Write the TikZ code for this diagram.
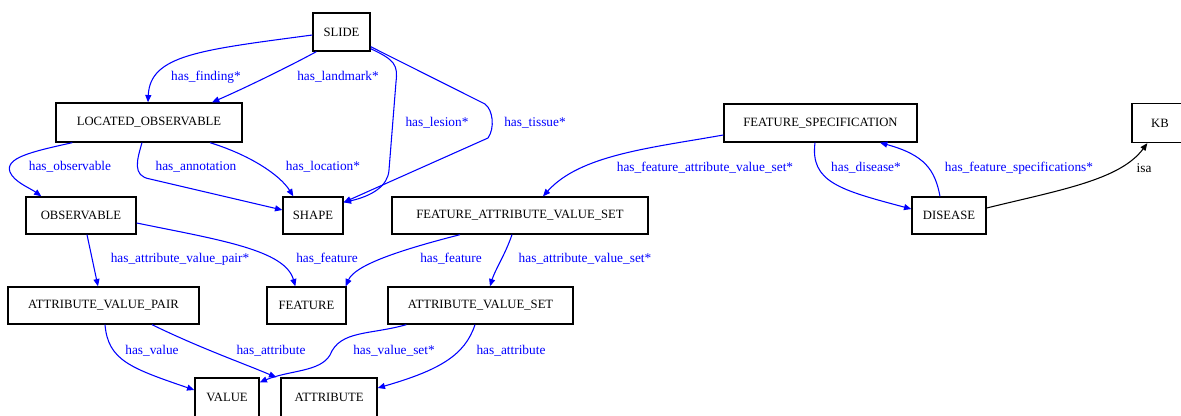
\documentclass[tikz,border=0pt]{standalone}
\usepackage{fontspec}
\setmainfont{Liberation Serif}
\usetikzlibrary{arrows.meta,calc}
\definecolor{eblue}{RGB}{0,0,255}
\newcommand{\nodefnt}{\fontsize{9.5}{11}\selectfont}
\newcommand{\lblfnt}{\fontsize{10}{12}\selectfont}
\tikzset{
  box/.style={draw=black, line width=1pt, inner sep=0pt, minimum height=37*0.75pt, font=\nodefnt, text=black},
  lbl/.style={inner sep=0pt, font=\lblfnt, text=eblue},
  rel/.style={draw=eblue, line width=0.8pt, -{Triangle[length=5.5pt,width=4.5pt]}},
  isarel/.style={draw=black, line width=0.8pt, -{Triangle[length=5.5pt,width=4.5pt]}}
}
\begin{document}
\begin{tikzpicture}[x=0.75pt,y=-0.75pt]
\path[use as bounding box, clip] (0,0) rectangle (1181,415);
\fill[white] (0,0) rectangle (1181,415);
% nodes
\node[box, minimum width=57*0.75pt, minimum height=38*0.75pt] (slide) at (341.5,32) {SLIDE};
\node[box, minimum width=186*0.75pt, minimum height=39*0.75pt] (lo) at (149,122.5) {LOCATED\_OBSERVABLE};
\node[box, minimum width=110*0.75pt] (obs) at (81,215.5) {OBSERVABLE};
\node[box, minimum width=60*0.75pt] (shape) at (313,215.5) {SHAPE};
\node[box, minimum width=256*0.75pt] (favs) at (520,215.5) {FEATURE\_ATTRIBUTE\_VALUE\_SET};
\node[box, minimum width=193*0.75pt, minimum height=38*0.75pt] (fs) at (820.5,123) {FEATURE\_SPECIFICATION};
\node[box, minimum width=56*0.75pt, minimum height=39*0.75pt] (kb) at (1160,123) {KB};
\node[box, minimum width=74*0.75pt] (disease) at (949,215.5) {DISEASE};
\node[box, minimum width=191*0.75pt] (avp) at (103.5,305.5) {ATTRIBUTE\_VALUE\_PAIR};
\node[box, minimum width=79*0.75pt] (feature) at (306.5,305.5) {FEATURE};
\node[box, minimum width=185*0.75pt] (avs) at (480.5,305.5) {ATTRIBUTE\_VALUE\_SET};
\node[box, minimum width=64*0.75pt, minimum height=39*0.75pt] (value) at (227,397.5) {VALUE};
\node[box, minimum width=96*0.75pt, minimum height=39*0.75pt] (attribute) at (329,397.5) {ATTRIBUTE};
% edges
\draw[rel] ($(slide.west)+(0,3)$) .. controls (200,50) and (150,55) .. ($(lo.north)+(-1,0)$);
\draw[rel] ($(slide.south west)+(4,0)$) .. controls (290,66) and (245,88) .. ($(lo.north)+(63,0)$);
\draw[rel] ($(slide.south east)+(0,-3)$) .. controls (395,60) and (398,65) .. (396,82) -- (389,170) .. controls (388,186) and (372,196) .. ($(shape.north east)+(0,6)$);
\draw[rel] ($(slide.south east)+(0,-5)$) -- (485,104) .. controls (493,110) and (495,128) .. (488,138) -- ($(shape.north east)+(0,6)$);
\draw[rel] ($(lo.south west)+(17,0)$) .. controls (30,152) and (5,158) .. (10,172) .. controls (14,182) and (30,188) .. ($(obs.north west)+(16,0)$);
\draw[rel] ($(lo.south)+(-7,0)$) .. controls (137,160) and (132,176) .. (150,179) -- ($(shape.west)+(0,-5.5)$);
\draw[rel] ($(lo.south)+(61,0)$) .. controls (250,155) and (280,175) .. ($(shape.north west)+(11,0)$);
\draw[rel] ($(obs.east)+(0,7.5)$) .. controls (220,240) and (285,250) .. ($(feature.north west)+(29,0)$);
\draw[rel] ($(obs.south)+(6,0)$) -- ($(avp.north)+(-5.5,0)$);
\draw[rel] ($(favs.south)+(-60,0)$) .. controls (400,250) and (355,265) .. ($(feature.north east)+(-1,0)$);
\draw[rel] ($(favs.south)+(-8,0)$) .. controls (505,255) and (495,270) .. ($(avs.north)+(9.5,0)$);
\draw[rel] ($(fs.west)+(0,12)$) .. controls (650,148) and (580,155) .. ($(favs.north)+(23,0)$);
\draw[rel] ($(fs.south)+(-5.5,0)$) .. controls (810,182) and (840,190) .. ($(disease.west)+(0,-6.5)$);
\draw[rel] ($(disease.north)+(-9,0)$) .. controls (935,170) and (925,155) .. ($(fs.south)+(59.5,0)$);
\draw[isarel] ($(disease.east)+(0,-7.5)$) .. controls (1060,190) and (1120,180) .. ($(kb.south west)+(16,0)$);
\draw[rel] ($(avp.south)+(1.5,0)$) .. controls (108,360) and (130,368) .. ($(value.west)+(0,-7.5)$);
\draw[rel] ($(avp.south)+(48.5,0)$) .. controls (200,348) and (240,362) .. ($(attribute.north west)+(-4,0)$);
\draw[rel] ($(avs.south west)+(19,0)$) .. controls (370,335) and (340,330) .. (330,355) .. controls (320,372) and (290,370) .. ($(value.north east)+(0,5)$);
\draw[rel] ($(avs.south)+(-5.5,0)$) .. controls (465,355) and (440,370) .. ($(attribute.east)+(0,-9.5)$);
% labels
\node[lbl] (l1) at (206,77) {has\_finding*};
\node[lbl] (l2) at (338,77) {has\_landmark*};
\node[lbl] (l3) at (437,123) {has\_lesion*};
\node[lbl] (l4) at (535,123) {has\_tissue*};
\node[lbl] (l5) at (70,167) {has\_observable};
\node[lbl] (l6) at (196,167) {has\_annotation};
\node[lbl] (l7) at (323,167) {has\_location*};
\node[lbl] (l8) at (180,259) {has\_attribute\_value\_pair*};
\node[lbl] (l9) at (327,259) {has\_feature};
\node[lbl] (l10) at (451,259) {has\_feature};
\node[lbl] (l11) at (585,259) {has\_attribute\_value\_set*};
\node[lbl] (l12) at (705,168) {has\_feature\_attribute\_value\_set*};
\node[lbl] (l13) at (866,168) {has\_disease*};
\node[lbl] (l14) at (1019,168) {has\_feature\_specifications*};
\node[lbl, text=black] (l15) at (1144,168) {isa};
\node[lbl] (l16) at (152,351) {has\_value};
\node[lbl] (l17) at (271,351) {has\_attribute};
\node[lbl] (l18) at (394,351) {has\_value\_set*};
\node[lbl] (l19) at (511,351) {has\_attribute};
\end{tikzpicture}
\end{document}
